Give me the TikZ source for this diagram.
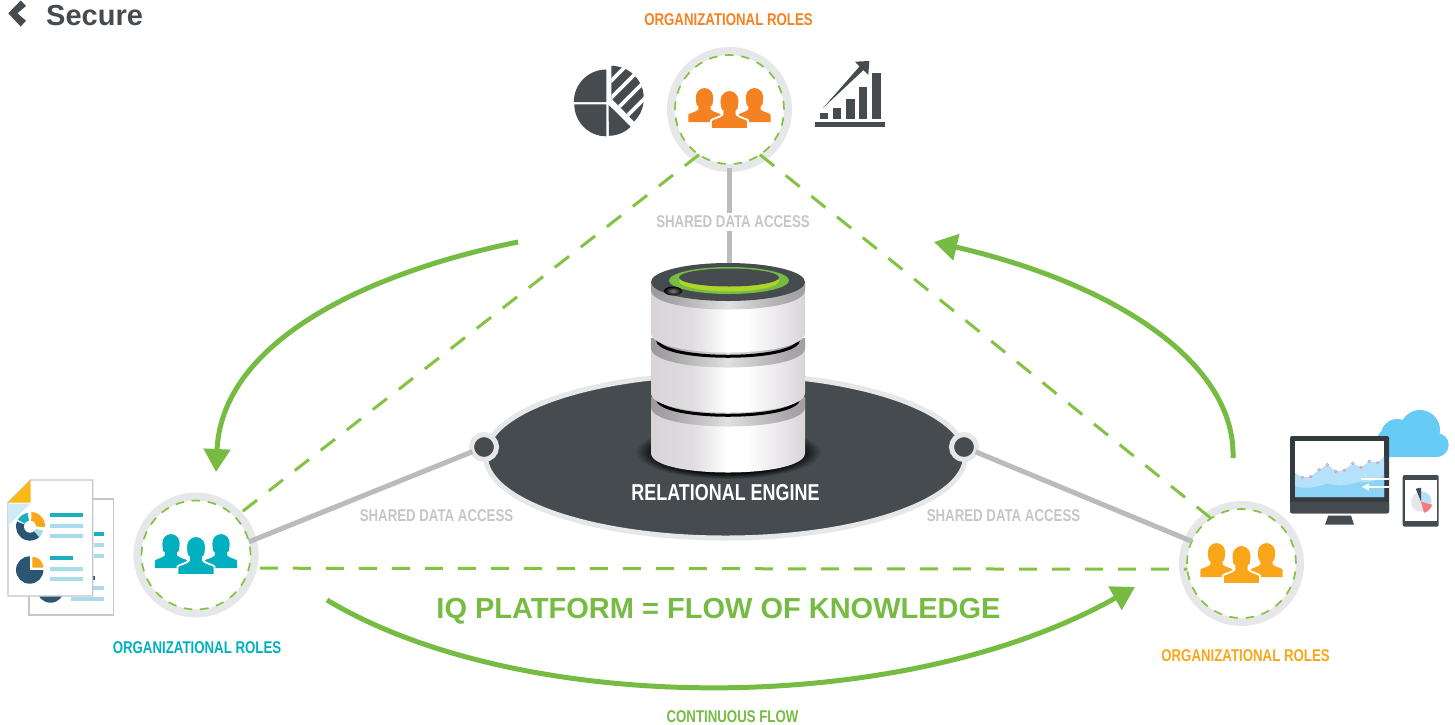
\documentclass[tikz,border=0pt]{standalone}
\usepackage{fontspec}
\setmainfont{Liberation Sans}
\newfontfamily\condf[FakeStretch=0.78]{Liberation Sans}
\usetikzlibrary{arrows.meta,shapes.geometric}
\definecolor{ringc}{HTML}{E6E7E8}
\definecolor{dashg}{HTML}{84C341}
\definecolor{flowg}{HTML}{76BC43}
\definecolor{grayl}{HTML}{B9BBBD}
\definecolor{graytx}{HTML}{C4C6C8}
\definecolor{darkc}{HTML}{454B4F}
\definecolor{orgc}{HTML}{F58220}
\definecolor{tealc}{HTML}{00B0C0}
\definecolor{ambc}{HTML}{FAA61A}
\definecolor{navyc}{HTML}{2A5674}
\definecolor{lblue}{HTML}{A8DCEB}
\definecolor{paleb}{HTML}{D0EAF6}
\definecolor{tealb}{HTML}{1AAEBF}
\definecolor{cloudc}{HTML}{66CBF5}
\definecolor{yellc}{HTML}{FDB913}
\definecolor{pageb}{HTML}{C4C6C8}
\definecolor{monit}{HTML}{333B3F}
\definecolor{areaa}{HTML}{B5E2FA}
\definecolor{areab}{HTML}{8CD4F7}
\definecolor{pinkc}{HTML}{DD9AA8}
\definecolor{redc}{HTML}{F47C7C}
\definecolor{bodya}{HTML}{F4F4F4}
\definecolor{bodyb}{HTML}{EDEDED}
\definecolor{bodyc}{HTML}{D3CFD3}
\definecolor{bodyd}{HTML}{DFDCDF}
\definecolor{bodye}{HTML}{D8D5D9}
\definecolor{bodyf}{HTML}{BFBCC0}
\definecolor{rima}{HTML}{DADADA}
\definecolor{rimb}{HTML}{C4C4C4}
\definecolor{rimc}{HTML}{8C8A8C}
\definecolor{rimd}{HTML}{A8A6A8}
\definecolor{rime}{HTML}{E0E0E0}
\definecolor{rimf}{HTML}{8F8D8F}
\pgfdeclarehorizontalshading{bodyshade}{100bp}{color(0bp)=(bodya);color(16bp)=(bodyb);color(17.5bp)=(bodyc);color(38bp)=(bodyd);color(50bp)=(white);color(56bp)=(white);color(75bp)=(bodye);color(100bp)=(bodyf)}
\pgfdeclarehorizontalshading{rimshade}{100bp}{color(0bp)=(rima);color(13bp)=(rimb);color(18bp)=(rimc);color(32bp)=(rimd);color(50bp)=(rime);color(70bp)=(rimd);color(90bp)=(rimf);color(100bp)=(rimb)}
\pgfdeclareradialshading{shadowshade}{\pgfpoint{0bp}{0bp}}{color(0bp)=(black);color(19bp)=(black);color(25bp)=(darkc);color(50bp)=(darkc)}
\tikzset{
 ringnode/.style={circle,fill=white,draw=ringc,line width=8pt,minimum size=117pt,inner sep=0pt,outer sep=0pt},
 dashring/.style={circle,draw=dashg,line width=1.7pt,dash pattern=on 8.5pt off 7.8pt,minimum size=109pt,inner sep=0pt,outer sep=0pt},
 dotnode/.style={circle,fill=darkc,draw=ringc,line width=5pt,minimum size=25pt,inner sep=0pt,outer sep=0pt},
 link/.style={draw=dashg,line width=3pt,dash pattern=on 18pt off 15pt},
 access/.style={draw=grayl,line width=5pt},
 flow/.style={draw=flowg,line width=5pt,-{Triangle[length=23pt,width=26pt]}},
 lab/.style={font=\condf\bfseries\fontsize{17}{17}\selectfont,inner sep=0pt},
 sharedlab/.style={lab,text=graytx},
 pagebox/.style={draw=pageb,line width=1.4pt,fill=white},
}
\newcommand{\oneperson}{
 (-18.5,0) -- (-18.5,-8.5) .. controls (-18.5,-10) and (-9,-11.5) .. (-7,-14.5) -- (-7,-18)
 .. controls (-8.5,-18.5) and (-10,-20.5) .. (-9.5,-23) .. controls (-11.5,-34) and (-6,-39) .. (0,-39)
 .. controls (6,-39) and (11.5,-34) .. (9.5,-23) .. controls (10,-20.5) and (8.5,-18.5) .. (7,-18)
 -- (7,-14.5) .. controls (9,-11.5) and (18.5,-10) .. (18.5,-8.5) -- (18.5,0) -- cycle}
\newcommand{\peoplegroup}[3]{%
 \begin{scope}[shift={(#1,#2)}]
  \begin{scope}[shift={(-25,-7)},scale=.87]\fill[#3] \oneperson;\end{scope}
  \begin{scope}[shift={(25,-7)},scale=.87]\fill[#3] \oneperson;\end{scope}
  \filldraw[#3,draw=white,line width=1.8pt] \oneperson;
 \end{scope}}
\newcommand{\cylseg}[2]{%
 \path[shading=bodyshade] (651,#1) -- (651,#2) .. controls (651,#2+26) and (805,#2+26) .. (805,#2) -- (805,#1) -- cycle;
 \path[shading=rimshade] (651,#1-2) -- (651,#1+8) .. controls (651,#1+34) and (805,#1+34) .. (805,#1+8) -- (805,#1-2) -- cycle;}
\newcommand{\sect}[6]{% cx cy r a b color, angles screen-up
 \fill[#6] (#1,#2) -- ++({(#3)*cos(#4)},{-(#3)*sin(#4)}) arc[start angle=-#4,delta angle=-(#5-#4),radius=#3] -- cycle;}
\begin{document}
\begin{tikzpicture}[x=1pt,y=-1pt]
\useasboundingbox (0,0) rectangle (1455,724);
\fill[white] (0,0) rectangle (1455,724);
% title
\fill[darkc] (8.3,13.3) -- (20.7,0.5) -- (26,6) -- (17.3,13.3) -- (26,20.7) -- (20.7,26.5) -- cycle;
\node[anchor=base west,inner sep=0pt,text=darkc,font=\bfseries\fontsize{29}{29}\selectfont] (title) at (46,25) {Secure};
% platform ellipse
\node[ellipse,draw=ringc,fill=darkc,line width=5pt,minimum width=480pt,minimum height=164pt,inner sep=0pt,outer sep=0pt] (platform) at (725.5,456) {};
% rings
\node[ringnode] (topr) at (729.5,109.5) {};
\node[ringnode] (leftr) at (196,555) {};
\node[ringnode] (rightr) at (1241.5,563.5) {};
\node[dotnode] (dotl) at (484,447) {};
\node[dotnode] (dotr) at (964,447) {};
\coordinate (cyltop) at (729.5,264);
% access lines
\draw[access] (topr.south) -- (cyltop);
\node[sharedlab,fill=white,inner ysep=3pt,inner xsep=0pt] (sharedt) at (733,222) {SHARED DATA ACCESS};
\node[dashring] (topd) at (topr) {};
\node[dashring] (leftd) at (leftr) {};
\node[dashring] (rightd) at (rightr) {};
\draw[access] (dotl) -- (leftd.14);
\draw[access] (dotr) -- (rightd.156);
\node[sharedlab] (sharedl) at (436.5,516) {SHARED DATA ACCESS};
\node[sharedlab] (sharedr) at (1003.5,516) {SHARED DATA ACCESS};
% dashed links
\draw[link] (topd.236) -- (leftd.44);
\draw[link] (topd.304) -- (rightd.124);
\draw[link,shorten <=11pt] (leftd.-14) -- (rightd.186);
% flow arrows
\coordinate (f1a) at (518,242); \coordinate (f1b) at (216,472);
\coordinate (f2a) at (1233,458); \coordinate (f2b) at (934,242);
\coordinate (f3a) at (327,600); \coordinate (f3b) at (1135,587);
\draw[flow] (f1a) .. controls (370,272) and (222,340) .. (f1b);
\draw[flow] (f2a) .. controls (1236,365) and (1120,285) .. (f2b);
\draw[flow] (f3a) .. controls (520,716) and (900,719) .. (f3b);
% people
\peoplegroup{729.5}{129}{orgc}
\peoplegroup{196}{575}{tealc}
\peoplegroup{1241.5}{584}{ambc}
% cylinder
\path[shading=shadowshade] (728,452) ellipse [x radius=93,y radius=27];
\cylseg{399}{453}
\draw[black,line width=3pt] (657,398) .. controls (657,421) and (799,421) .. (799,398);
\cylseg{340}{393}
\draw[black,line width=3pt] (657,339) .. controls (657,362) and (799,362) .. (799,339);
\path[shading=bodyshade] (651,284) -- (651,333) .. controls (651,359) and (805,359) .. (805,333) -- (805,284) -- cycle;
\path[shading=rimshade] (651,282) -- (651,290) .. controls (651,316) and (805,316) .. (805,290) -- (805,282) -- cycle;
\fill[darkc] (728,282) ellipse [x radius=77,y radius=19];
\fill[flowg] (729,280.5) ellipse [x radius=60,y radius=13.5];
\fill[flowg!60!yellow] (729,281) ellipse [x radius=50,y radius=10.5];
\fill[darkc] (729,277.5) ellipse [x radius=50,y radius=9];
\shade[inner color=gray,outer color=black] (673,291) ellipse [x radius=9,y radius=4.5];
\node[inner sep=0pt,text=white,font=\condf\bfseries\fontsize{23}{23}\selectfont] (engine) at (725.5,492.5) {RELATIONAL ENGINE};
% labels
\node[lab,text=orgc] (ltop) at (728.5,19.5) {ORGANIZATIONAL ROLES};
\node[lab,text=tealc] (lleft) at (197,647.5) {ORGANIZATIONAL ROLES};
\node[lab,text=ambc] (lright) at (1245.5,655.5) {ORGANIZATIONAL ROLES};
\node[lab,text=flowg] (lcont) at (732.5,716.5) {CONTINUOUS FLOW};
\node[anchor=base,inner sep=0pt,text=flowg,font=\bfseries\fontsize{29}{29}\selectfont] (iq) at (718.5,618) {IQ PLATFORM = FLOW OF KNOWLEDGE};
% pie icon
\sect{606.3}{102}{32.5}{90}{180}{darkc}
\sect{606.3}{104.3}{32}{180}{270}{darkc}
\fill[darkc] (608.7,105) -- (630.7,126.7) arc[start angle=45,end angle=90,radius=31] -- cycle;
\begin{scope}
 \clip (611.3,98.3) -- (611.3,60) -- (650,60) -- (650,137.6) -- cycle;
 \fill[darkc] (611.3,98.3) circle [radius=32.5];
 \foreach \c in {692,709,726,743}{\draw[white,line width=3.6pt] (590,\c-590) -- (670,\c-670);}
\end{scope}
% chart icon
\fill[darkc] (815,122.3) rectangle (885,126.7);
\fill[darkc] (819.7,113.3) rectangle (828.3,119);
\fill[darkc] (832.7,107.7) rectangle (841.3,119);
\fill[darkc] (845.7,99) rectangle (854.7,119);
\fill[darkc] (858.7,87.3) rectangle (867.3,119);
\fill[darkc] (872,73) rectangle (880.7,119);
\fill[darkc] (823,108) -- (859.5,66.5) -- (855,61.7) -- (869.3,61) -- (868.3,75) -- (863.5,70) -- cycle;
% documents
\draw[pagebox] (29,499) rectangle (113.7,615);
\fill[tealb] (94,532) rectangle (104,536);
\fill[lblue] (94,543) rectangle (104,547);
\fill[lblue] (94,554) rectangle (104,558);
\fill[lblue] (71,585.7) rectangle (104,589.7);
\fill[lblue] (71,597) rectangle (104,601);
\fill[navyc] (92.7,576) rectangle (94.5,580);
\fill[navyc] (50.5,589) circle [radius=13.7];
\draw[pagebox] (8,502.7) -- (30.5,480) -- (92.7,480) -- (92.7,596) -- (8,596) -- cycle;
\fill[yellc] (8,502.7) -- (30.5,480) -- (30.5,502.7) -- cycle;
\fill[paleb] (8,503.5) -- (30.5,503.5) -- (8,525.5) -- cycle;
\fill[tealb] (50,512.7) rectangle (83,517.3);
\fill[lblue] (50,524) rectangle (83,528);
\fill[lblue] (50,534) rectangle (83,538);
\fill[tealb] (50,556) rectangle (73,560);
\fill[lblue] (50,567) rectangle (83,571);
\fill[lblue] (50,577) rectangle (83,581);
\sect{30}{526.7}{14}{158}{318}{navyc}
\sect{30}{526.7}{14}{100}{150}{tealb}
\sect{31}{526}{14}{-5}{88}{ambc}
\sect{31.5}{528}{12}{-50}{-12}{lblue}
\fill[white] (30,526.7) circle [radius=6];
\fill[navyc] (29.7,570) circle [radius=13.7];
\fill[white] (29.7,570) rectangle (46,555);
\sect{32.3}{567.7}{11}{0}{90}{ambc}
% cloud
\fill[cloudc] (1420,430) circle [radius=20];
\fill[cloudc] (1397,435) circle [radius=16];
\fill[cloudc] (1436.7,445) circle [radius=12];
\fill[cloudc] (1388,440) circle [radius=11];
\fill[cloudc] (1384,440) rectangle (1437,456.7);
% monitor
\fill[white] (1328.3,513) rectangle (1351,516);
\fill[darkc] (1328.3,515.5) -- (1351,515.5) -- (1354,524.7) -- (1325,524.7) -- cycle;
\fill[monit,rounded corners=2pt] (1290,436) rectangle (1389,513.3);
\fill[darkc,rounded corners=2pt] (1290,501.7) rectangle (1389,513.3);
\fill[white] (1295,440.7) rectangle (1384,497);
\fill[areaa] (1295,472.7) -- (1302.3,477.3) -- (1310.7,476.7) -- (1319,469.7) -- (1327.3,464.7) -- (1335.7,471.3) -- (1344.3,470.3) -- (1352.7,463.3) -- (1361,467.3) -- (1369.3,461.3) -- (1377.7,462.7) -- (1384,456.7) -- (1384,497) -- (1295,497) -- cycle;
\fill[areab] (1295,486) .. controls (1305,490) and (1318,487) .. (1327,483.5) .. controls (1340,487) and (1350,485) .. (1360,481.5) .. controls (1370,484) and (1378,480) .. (1384,475) -- (1384,497) -- (1295,497) -- cycle;
\foreach \px/\py in {1302.3/477.3,1310.7/476.7,1319/469.7,1327.3/464.7,1335.7/471.3,1344.3/470.3,1352.7/463.3,1361/467.3,1369.3/461.3,1377.7/462.7}{\draw[pinkc,line width=.7pt] (\px,\py) circle [radius=1.3];}
\fill[white] (1361,478.4) rectangle (1389,480.2);
\fill[white] (1369,486) rectangle (1389,487.8);
\fill[white] (1361.7,486.9) -- (1369,483.3) -- (1369,490.6) -- cycle;
% tablet
\fill[darkc,rounded corners=2pt] (1402.7,475) rectangle (1438.7,526.7);
\fill[white] (1405,480) rectangle (1436.7,520.7);
\fill[ringc] (1421,501.7) circle [radius=10];
\sect{1421}{501.7}{10.5}{-10}{90}{areaa}
\sect{1421}{501.7}{11.5}{-75}{-15}{redc}
\sect{1421}{501.7}{14}{90}{112}{darkc}
\end{tikzpicture}
\end{document}
